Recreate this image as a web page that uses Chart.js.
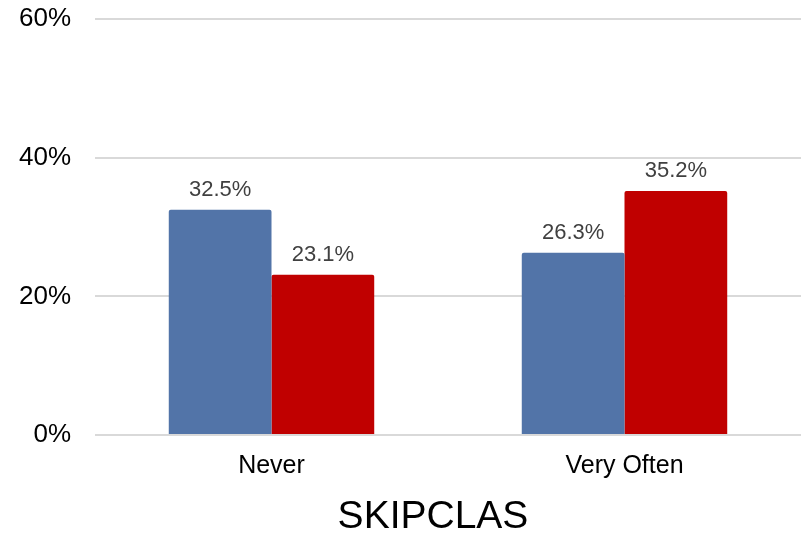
<!DOCTYPE html>
<html>
<head>
<meta charset="utf-8">
<script src="https://cdn.jsdelivr.net/npm/chart.js@4/dist/chart.umd.min.js"></script>
<style>
  html, body { margin: 0; padding: 0; background: #fff; }
  #wrap { width: 812px; height: 537px; }
</style>
</head>
<body>
<div id="wrap"><canvas id="myChart" width="812" height="537"></canvas></div>
<script>
const categories = ['Never', 'Very Often'];
const seriesBlue = [32.5, 26.3];
const seriesRed = [23.1, 35.2];
const yTicks = [0, 20, 40, 60];
const axisTitle = 'SKIPCLAS';

const FONT = '"Liberation Sans", Arial, sans-serif';

// draws the percentage above each bar, plus the axis title
const valueLabels = {
    id: 'valueLabels',
    afterDatasetsDraw(chart) {
        const ctx = chart.ctx;
        ctx.save();
        ctx.font = '22px ' + FONT;
        ctx.fillStyle = '#404040';
        ctx.textAlign = 'center';
        ctx.textBaseline = 'bottom';
        chart.data.datasets.forEach(function(ds, i) {
            chart.getDatasetMeta(i).data.forEach(function(bar, j) {
                ctx.fillText(ds.data[j].toFixed(1) + '%', bar.x, bar.y - 9);
            });
        });

        // title sits a bit left of the plot centre
        ctx.font = '39px ' + FONT;
        ctx.fillStyle = '#000';
        ctx.textBaseline = 'middle';
        ctx.fillText(axisTitle, 433, 517);
        ctx.restore();
    }
};

document.addEventListener('DOMContentLoaded', function() {
    const chartCanvas = document.getElementById('myChart').getContext('2d');
    new Chart(chartCanvas, {
        type: 'bar',
        data: {
            labels: categories,
            datasets: [{
                label: 'Series 1',
                data: seriesBlue,
                backgroundColor: '#5274a8',
                borderRadius: { topLeft: 2, topRight: 2 },
                borderSkipped: 'bottom'
            }, {
                label: 'Series 2',
                data: seriesRed,
                backgroundColor: '#c00000',
                borderRadius: { topLeft: 2, topRight: 2 },
                borderSkipped: 'bottom'
            }]
        },
        options: {
            responsive: false,
            animation: false,
            categoryPercentage: 0.582,
            barPercentage: 1,
            layout: { padding: { top: 19, right: 11, bottom: 0, left: 0 } },
            plugins: {
                legend: { display: false },
                tooltip: { enabled: false }
            },
            scales: {
                y: {
                    min: 0,
                    max: 60,
                    afterBuildTicks: function(axis) {
                        axis.ticks = yTicks.map(v => ({ value: v }));
                    },
                    afterFit: function(axis) {
                        axis.width = 95;
                        axis.paddingTop = 0;
                        axis.paddingBottom = 0;
                    },
                    border: { display: false },
                    grid: { color: '#d9d9d9', lineWidth: 2, drawTicks: false },
                    ticks: {
                        padding: 24,
                        color: '#000',
                        font: { family: FONT, size: 26 },
                        callback: v => v + '%'
                    }
                },
                x: {
                    afterFit: function(axis) {
                        axis.height = 102;
                        axis.paddingLeft = 0;
                        axis.paddingRight = 0;
                    },
                    border: { display: false },
                    grid: { display: false, drawTicks: false },
                    ticks: {
                        padding: 16,
                        color: '#000',
                        font: { family: FONT, size: 25 }
                    }
                }
            }
        },
        plugins: [valueLabels]
    });
});
</script>
</body>
</html>
